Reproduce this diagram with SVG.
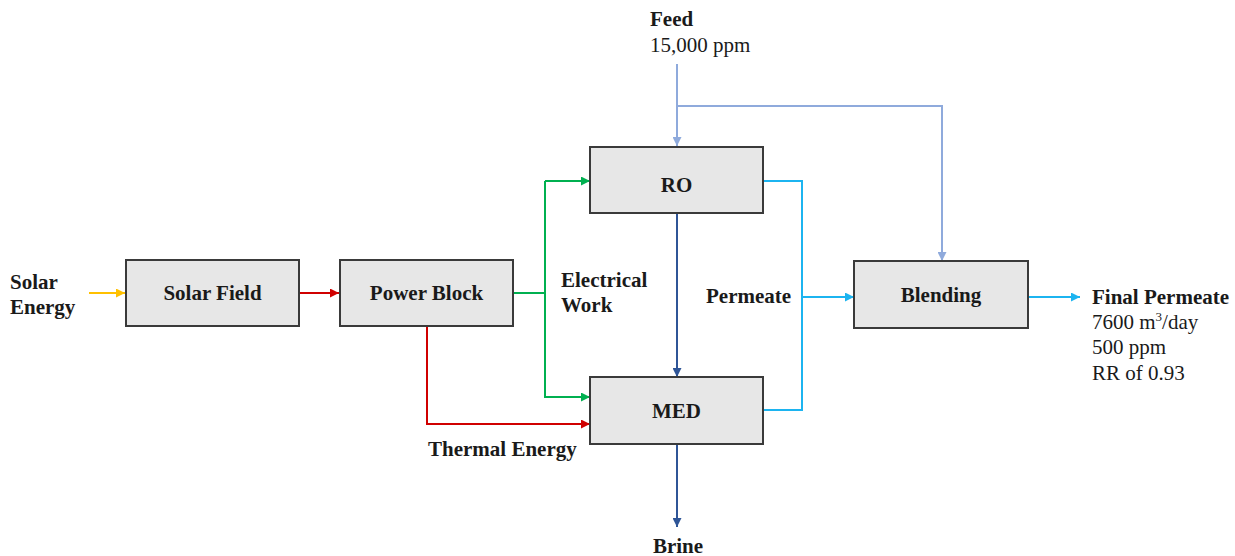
<svg xmlns="http://www.w3.org/2000/svg" width="1235" height="556" viewBox="0 0 1235 556">
<style>
.box{fill:#E7E7E7;stroke:#3A3A3A;stroke-width:2}
.lbl{font-family:"Liberation Serif",serif;font-weight:bold;font-size:21px;fill:#1A1A1A}
.txt{font-family:"Liberation Serif",serif;font-size:21px;fill:#1A1A1A}
.c{fill:none;stroke-width:2}
</style>
<defs>
<marker id="aY" viewBox="0 0 10 10" refX="10" refY="5" markerWidth="9" markerHeight="9" markerUnits="userSpaceOnUse" orient="auto"><path d="M0,0L10,5L0,10z" fill="#FFC000"/></marker>
<marker id="aR" viewBox="0 0 10 10" refX="10" refY="5" markerWidth="9" markerHeight="9" markerUnits="userSpaceOnUse" orient="auto"><path d="M0,0L10,5L0,10z" fill="#D00000"/></marker>
<marker id="aG" viewBox="0 0 10 10" refX="10" refY="5" markerWidth="9" markerHeight="9" markerUnits="userSpaceOnUse" orient="auto"><path d="M0,0L10,5L0,10z" fill="#00B050"/></marker>
<marker id="aL" viewBox="0 0 10 10" refX="10" refY="5" markerWidth="9" markerHeight="9" markerUnits="userSpaceOnUse" orient="auto"><path d="M0,0L10,5L0,10z" fill="#8FAADC"/></marker>
<marker id="aC" viewBox="0 0 10 10" refX="10" refY="5" markerWidth="9" markerHeight="9" markerUnits="userSpaceOnUse" orient="auto"><path d="M0,0L10,5L0,10z" fill="#1CB4F0"/></marker>
<marker id="aD" viewBox="0 0 10 10" refX="10" refY="5" markerWidth="9" markerHeight="9" markerUnits="userSpaceOnUse" orient="auto"><path d="M0,0L10,5L0,10z" fill="#2F5597"/></marker>
</defs>
<g id="connectors">
<path class="c" stroke="#FFC000" d="M89,293H125" marker-end="url(#aY)"/>
<path class="c" stroke="#D00000" d="M299,293H339" marker-end="url(#aR)"/>
<path class="c" stroke="#D00000" d="M427,327V424H590" marker-end="url(#aR)"/>
<path class="c" stroke="#00B050" d="M513,293H545"/>
<path class="c" stroke="#00B050" d="M545,181V397H590" marker-end="url(#aG)"/>
<path class="c" stroke="#00B050" d="M545,181H590" marker-end="url(#aG)"/>
<path class="c" stroke="#8FAADC" d="M677,64V146" marker-end="url(#aL)"/>
<path class="c" stroke="#8FAADC" d="M677,106H942V261" marker-end="url(#aL)"/>
<path class="c" stroke="#2F5597" d="M677,213V377" marker-end="url(#aD)"/>
<path class="c" stroke="#2F5597" d="M677,444V527" marker-end="url(#aD)"/>
<path class="c" stroke="#1CB4F0" d="M763,181H802V410H763"/>
<path class="c" stroke="#1CB4F0" d="M802,297H854" marker-end="url(#aC)"/>
<path class="c" stroke="#1CB4F0" d="M1028,297H1080" marker-end="url(#aC)"/>
</g>
<g id="solar-field"><rect class="box" x="126" y="260" width="173" height="66"/><text class="lbl" x="212.5" y="300" text-anchor="middle">Solar Field</text></g>
<g id="power-block"><rect class="box" x="340" y="260" width="173" height="66"/><text class="lbl" x="426.5" y="300" text-anchor="middle">Power Block</text></g>
<g id="ro"><rect class="box" x="590" y="147" width="173" height="66"/><text class="lbl" x="676.5" y="192" text-anchor="middle">RO</text></g>
<g id="med"><rect class="box" x="590" y="377" width="173" height="67"/><text class="lbl" x="676.5" y="418" text-anchor="middle">MED</text></g>
<g id="blending"><rect class="box" x="854" y="261" width="174" height="67"/><text class="lbl" x="941" y="302" text-anchor="middle">Blending</text></g>
<g id="labels">
<text class="lbl" x="10" y="289">Solar</text>
<text class="lbl" x="10" y="314">Energy</text>
<text class="lbl" x="561" y="287">Electrical</text>
<text class="lbl" x="561" y="312">Work</text>
<text class="lbl" x="706" y="303">Permeate</text>
<text class="lbl" x="428" y="456">Thermal Energy</text>
<text class="lbl" x="650" y="26">Feed</text>
<text class="txt" x="650" y="52">15,000 ppm</text>
<text class="lbl" x="678" y="553" text-anchor="middle">Brine</text>
<text class="lbl" x="1092" y="304">Final Permeate</text>
<text class="txt" x="1092" y="329">7600 m<tspan font-size="13" dy="-8">3</tspan><tspan dy="8">/day</tspan></text>
<text class="txt" x="1092" y="354">500 ppm</text>
<text class="txt" x="1092" y="380">RR of 0.93</text>
</g>
</svg>
